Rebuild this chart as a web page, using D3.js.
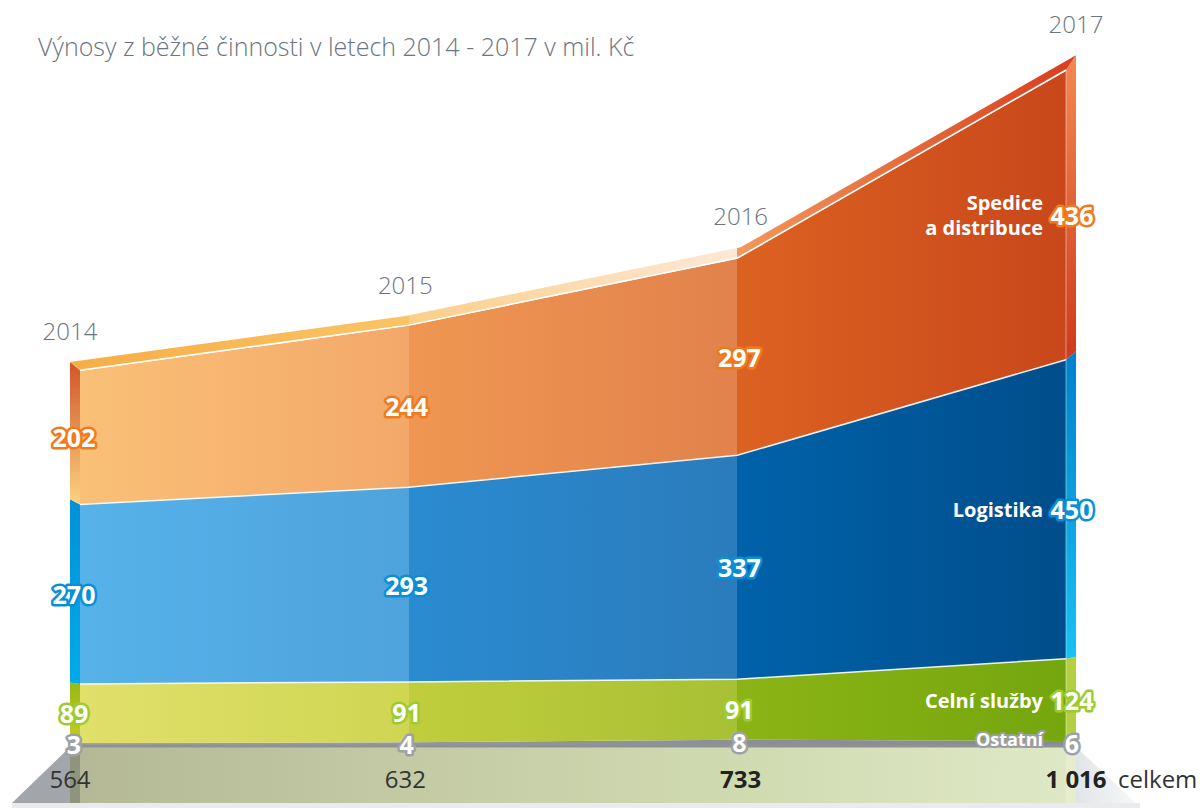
<!DOCTYPE html>
<html>
<head>
<meta charset="utf-8">
<script src="https://cdn.jsdelivr.net/npm/d3@7"></script>
<style>
  body { margin: 0; background: #fff; }
  svg { display: block; font-family: "Open Sans", sans-serif; }
  .val { font-weight: 700; font-size: 25px; fill: #fff; paint-order: stroke; stroke-width: 5px; stroke-linejoin: round; text-anchor: middle; dominant-baseline: central; }
  .cat { font-weight: 700; font-size: 20px; fill: #fff; text-anchor: end; }
  .year { font-weight: 300; font-size: 24px; fill: #6b7480; text-anchor: middle; }
  .total { font-size: 24px; fill: #333; }
</style>
</head>
<body>
<svg id="chart"></svg>
<script>
// data
const years = ['2014', '2015', '2016', '2017'];
const ostatni = [3, 4, 8, 6];
const celniSluzby = [89, 91, 91, 124];
const logistika = [270, 293, 337, 450];
const spedice = [202, 244, 297, 436];
const totals = [564, 632, 733, 1016];
const totalLabels = ['564', '632', '733', '1 016'];
const seriesKeys = ['ostatni', 'celni', 'logistika', 'spedice'];
const seriesNames = [['Ostatní'], ['Celní služby'], ['Logistika'], ['Spedice', 'a distribuce']];

const W = 1200, H = 808;
const svg = d3.select('#chart').attr('width', W).attr('height', H);
const defs = svg.append('defs');

const rows = years.map((yr, i) => ({
  year: yr, ostatni: ostatni[i], celni: celniSluzby[i], logistika: logistika[i], spedice: spedice[i]
}));
const stacked = d3.stack().keys(seriesKeys)(rows);

const x = d3.scalePoint().domain(years).range([80, 1066]);
const y = d3.scaleLinear().domain([0, 1016]).range([745, 70]);
const x0 = x(years[0]), x1 = x(years[years.length - 1]);
const cx = (x0 + x1) / 2, hw = (x1 - x0) / 2;

// fake 3d depth
const side = xv => 10 * (xv - cx) / hw;
const lift = yv => 0.022 * (y(0) - yv);

// styles
const style = {
  ostatni: { front: [['#a0a4a8', '#94989c'], ['#94989c', '#8c9094'], ['#8c9094', '#888c90']], left: ['#9a9ea2', '#9a9ea2'], right: ['#b0b4b8', '#b0b4b8'], stroke: '#9ea2a6' },
  celni: { front: [['#e0e06a', '#cfd652'], ['#c0ce3c', '#a8c034'], ['#8cb416', '#74a60e']], left: ['#98b818', '#c8cc22'], right: ['#b4d040', '#b4d040'], stroke: '#9dcb2f' },
  logistika: { front: [['#57b2ea', '#4ea3dc'], ['#2a8bd0', '#2a7cbc'], ['#0062aa', '#004e8b']], left: ['#0092d6', '#00aae8'], right: ['#0080cc', '#18c2f2'], stroke: '#0a8fd6' },
  spedice: { front: [['#fac077', '#f3a86a'], ['#ef9752', '#e2824c'], ['#dc6222', '#c9471a']], left: ['#d2552a', '#fcd280'], right: ['#f28a52', '#cf3a1c'], stroke: '#f07a1c' }
};
const topColors = [['#f6ae48', '#fbc466'], ['#fbcf88', '#fde8d8'], ['#f2985c', '#d8401f']];

function stepGradient(id, segs, xa, xb) {
  const g = defs.append('linearGradient').attr('id', id)
    .attr('gradientUnits', 'userSpaceOnUse')
    .attr('x1', xa).attr('x2', xb).attr('y1', 0).attr('y2', 0);
  segs.forEach((c, i) => {
    const a = (x(years[i]) - xa) / (xb - xa), b = (x(years[i + 1]) - xa) / (xb - xa);
    g.append('stop').attr('offset', a).attr('stop-color', c[0]);
    g.append('stop').attr('offset', b).attr('stop-color', c[1]);
  });
}
function vGradient(id, c) {
  const g = defs.append('linearGradient').attr('id', id)
    .attr('x1', 0).attr('x2', 0).attr('y1', 0).attr('y2', 1);
  g.append('stop').attr('offset', 0).attr('stop-color', c[0]);
  g.append('stop').attr('offset', 1).attr('stop-color', c[1]);
}

// floor
const fl = defs.append('linearGradient').attr('id', 'floor')
  .attr('gradientUnits', 'userSpaceOnUse').attr('x1', x0).attr('x2', x1).attr('y1', 0).attr('y2', 0);
[['0', '#b4b896'], ['0.33', '#c3caa4'], ['0.66', '#d0dab0'], ['1', '#dfe8c6']].forEach(s =>
  fl.append('stop').attr('offset', s[0]).attr('stop-color', s[1]));
const rg = defs.append('linearGradient').attr('id', 'rwedge').attr('x1', 0).attr('x2', 1).attr('y1', 0).attr('y2', 0);
rg.append('stop').attr('offset', 0).attr('stop-color', '#e2e5e8');
rg.append('stop').attr('offset', 1).attr('stop-color', '#f6f7f8');

const base = y(0);
const floorBottom = 803;
svg.append('rect').attr('x', x0 - 68).attr('y', floorBottom).attr('width', x1 - x0 + 142).attr('height', H - floorBottom).attr('fill', '#e9ebed');
svg.append('path').attr('fill', '#a2a6ab')
  .attr('d', `M${x0 + side(x0)},${base + 2}L${x0 + side(x0) - 58},${floorBottom}L${x0 + side(x0)},${floorBottom}Z`);
svg.append('path').attr('fill', 'url(#rwedge)')
  .attr('d', `M${x1 + side(x1)},${base + 2}L${x1 + side(x1) + 60},${floorBottom}L${x1 + side(x1)},${floorBottom}Z`);
svg.append('rect').attr('x', x0).attr('y', base + 2).attr('width', x1 - x0).attr('height', floorBottom - base - 2).attr('fill', 'url(#floor)');
svg.append('rect').attr('x', x0 + side(x0)).attr('y', base + 2).attr('width', -side(x0)).attr('height', floorBottom - base - 2).attr('fill', '#8f957c');
svg.append('rect').attr('x', x1).attr('y', base + 2).attr('width', side(x1)).attr('height', floorBottom - base - 2).attr('fill', '#e8ecce');

// front faces
const area = d3.area().x(d => x(d.data.year)).y0(d => y(d[0])).y1(d => y(d[1]));
stacked.forEach(s => {
  stepGradient('front-' + s.key, style[s.key].front, x0, x1);
  vGradient('left-' + s.key, style[s.key].left);
  vGradient('right-' + s.key, style[s.key].right);
});
svg.append('g').selectAll('path').data(stacked).join('path')
  .attr('d', area).attr('fill', d => `url(#front-${d.key})`);

// divider lines
const line = d3.line().x(d => x(d.data.year)).y(d => y(d[1]));
svg.append('g').selectAll('path').data(stacked.slice(1)).join('path')
  .attr('d', line).attr('fill', 'none').attr('stroke', '#fff').attr('stroke-width', 1.5).attr('stroke-opacity', 0.9);

// baseline bar
svg.append('line').attr('x1', x0 + side(x0)).attr('x2', x1).attr('y1', base + 1).attr('y2', base + 1)
  .attr('stroke', '#8e9296').attr('stroke-width', 3);

// side faces
function sidePoly(xf, s, i) {
  const xb = xf + side(xf);
  const ya = y(s[i][0]), yb = y(s[i][1]);
  return `M${xf},${ya}L${xf},${yb}L${xb},${yb - lift(yb)}L${xb},${ya - lift(ya)}Z`;
}
svg.append('g').selectAll('path').data(stacked).join('path')
  .attr('d', s => sidePoly(x0, s, 0)).attr('fill', d => `url(#left-${d.key})`);
svg.append('g').selectAll('path').data(stacked).join('path')
  .attr('d', s => sidePoly(x1, s, years.length - 1)).attr('fill', d => `url(#right-${d.key})`);
svg.append('line').attr('x1', x1).attr('x2', x1).attr('y1', y(totals[3])).attr('y2', base)
  .attr('stroke', '#fff').attr('stroke-opacity', 0.3).attr('stroke-width', 1.5);

// top face
const topS = stacked[stacked.length - 1];
const front = topS.map(d => [x(d.data.year), y(d[1])]);
const back = front.map(p => [p[0] + side(p[0]), p[1] - lift(p[1])]);
stepGradient('topface', topColors, x0, x1);
svg.append('path').attr('fill', 'url(#topface)')
  .attr('d', 'M' + front.concat(back.slice().reverse()).join('L') + 'Z');
svg.append('path').attr('fill', 'none').attr('stroke', '#fff').attr('stroke-width', 1.5)
  .attr('d', 'M' + front.join('L'));

// title
svg.append('text').attr('x', 38).attr('y', 56).attr('font-size', 25).attr('font-weight', 300)
  .attr('fill', '#6b7480').text('Výnosy z běžné činnosti v letech 2014 - 2017 v mil. Kč');

// year labels
svg.append('g').selectAll('text').data(back).join('text').attr('class', 'year')
  .attr('x', p => p[0]).attr('y', p => p[1] - 22).text((p, i) => years[i]);

// value labels
stacked.forEach(s => {
  svg.append('g').selectAll('text').data(s).join('text').attr('class', 'val')
    .attr('stroke', style[s.key].stroke)
    .attr('x', d => x(d.data.year) + side(x(d.data.year)) * 0.6)
    .attr('y', d => y((d[0] + d[1]) / 2))
    .text(d => d[1] - d[0]);
});

// category names
stacked.forEach((s, k) => {
  const last = s[s.length - 1];
  const cy = y((last[0] + last[1]) / 2);
  const names = seriesNames[k];
  const t = svg.append('text').attr('class', 'cat').attr('x', x1 - 23)
    .attr('y', cy - (names.length - 1) * 12.5).attr('dominant-baseline', 'central');
  if (s.key === 'ostatni') {
    t.attr('y', cy - 4).style('font-size', '18px').attr('stroke', '#9a9ea2').attr('stroke-width', 4).attr('paint-order', 'stroke').attr('stroke-linejoin', 'round');
  }
  names.forEach((n, j) => t.append('tspan').attr('x', x1 - 23).attr('dy', j ? 25 : 0).text(n));
});

// totals
svg.append('g').selectAll('text').data(totals).join('text').attr('class', 'total')
  .style('text-anchor', 'middle')
  .attr('x', (d, i) => x(years[i]) + side(x(years[i])))
  .attr('y', 788)
  .style('font-weight', (d, i) => i >= 2 ? 700 : 400)
  .style('fill', (d, i) => i >= 2 ? '#222' : '#333')
  .text((d, i) => totalLabels[i]);
svg.append('text').attr('class', 'total').attr('x', x1 + side(x1) + 42).attr('y', 788)
  .style('text-anchor', 'start').text('celkem');
</script>
</body>
</html>
